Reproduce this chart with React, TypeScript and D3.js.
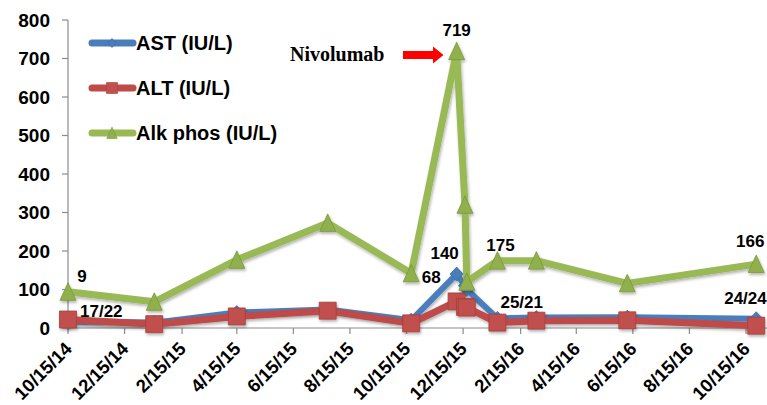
import React, { useEffect, useRef } from 'react';
import * as d3 from 'd3';

// visit dates (x) and lab values (y)
const visitDates = ['2014-10-15', '2015-01-16', '2015-04-15', '2015-07-22', '2015-10-20', '2015-12-08',
  '2015-12-17', '2015-12-19', '2016-01-21', '2016-03-03', '2016-06-09', '2016-10-26'];
const ast = [17, 14, 40, 48, 20, 140, 110, 100, 25, 27, 28, 24];
const alt = [22, 10, 30, 45, 12, 69, 55, 53, 14, 19, 20, 6];
const alkPhos = [94, 68, 177, 273, 142, 719, 320, 120, 175, 175, 116, 166];

const yTicks = [0, 100, 200, 300, 400, 500, 600, 700, 800];
const xTickDates = ['2014-10-15', '2014-12-15', '2015-02-15', '2015-04-15', '2015-06-15', '2015-08-15',
  '2015-10-15', '2015-12-15', '2016-02-15', '2016-04-15', '2016-06-15', '2016-08-15', '2016-10-15'];

const seriesNames = ['AST (IU/L)', 'ALT (IU/L)', 'Alk phos (IU/L)'];

// value labels: text, series, point index
const valueLabels = [
  { text: '9', series: 2, i: 0 },
  { text: '17/22', series: 1, i: 0 },
  { text: '140', series: 0, i: 5 },
  { text: '68', series: 2, i: 4 },
  { text: '719', series: 2, i: 5 },
  { text: '175', series: 2, i: 8 },
  { text: '25/21', series: 1, i: 8 },
  { text: '166', series: 2, i: 11 },
  { text: '24/24', series: 0, i: 11 },
];

export default function App() {
  const ref = useRef<SVGSVGElement>(null);

  useEffect(() => {
    const svg = d3.select(ref.current);
    svg.selectAll('*').remove();

    const parse = d3.timeParse('%Y-%m-%d');
    const dates = visitDates.map(d => parse(d) as Date);
    const values = [ast, alt, alkPhos];

    const x = d3.scaleTime()
      .domain([parse('2014-10-15') as Date, parse('2016-10-15') as Date])
      .range([68, 746]);
    const y = d3.scaleLinear().domain([0, 800]).range([328, 20]);

    const lineCol = ['#4A7EBB', '#BE4B48', '#98B954'];
    const markCol = ['#4A7EBB', '#C0504D', '#8FB04C'];
    const markEdge = ['#3A68A0', '#A33F3C', '#78983A'];
    const lineW = [6, 7, 7];
    const font = 'Liberation Sans, Arial, sans-serif';

    const defs = svg.append('defs');
    defs.append('filter').attr('id', 'sh')
      .attr('x', '-20%').attr('y', '-20%').attr('width', '140%').attr('height', '140%')
      .append('feDropShadow')
      .attr('dx', 1).attr('dy', 2).attr('stdDeviation', 1.5)
      .attr('flood-color', '#000').attr('flood-opacity', 0.3);

    // marker paths, centred on 0,0
    const marker = (s: number, k: number) => {
      if (s === 0) return `M0,${-7 * k}L${6.5 * k},0L0,${7 * k}L${-6.5 * k},0Z`;
      if (s === 1) return `M${-8.5 * k},${-8.5 * k}h${17 * k}v${17 * k}h${-17 * k}Z`;
      return `M0,${-9 * k}L${8 * k},${8.5 * k}L${-8 * k},${8.5 * k}Z`;
    };

    // axes
    const axis = svg.append('g').attr('stroke', '#8C8C8C').attr('stroke-width', 1.2);
    axis.append('line').attr('x1', 68).attr('x2', 68).attr('y1', y(800)).attr('y2', y(0));
    axis.append('line').attr('x1', 68).attr('x2', 767).attr('y1', y(0)).attr('y2', y(0));
    axis.selectAll('.yt').data(yTicks).enter().append('line')
      .attr('x1', 62).attr('x2', 68).attr('y1', d => y(d)).attr('y2', d => y(d));
    axis.selectAll('.xt').data(xTickDates).enter().append('line')
      .attr('x1', d => x(parse(d) as Date)).attr('x2', d => x(parse(d) as Date))
      .attr('y1', y(0)).attr('y2', y(0) + 6);

    svg.selectAll('.ylab').data(yTicks).enter().append('text')
      .attr('x', 50).attr('y', d => y(d)).attr('dy', '0.36em')
      .attr('text-anchor', 'end')
      .style('font', `bold 19px ${font}`)
      .text(d => d);

    const fmt = d3.timeFormat('%-m/%-d/%y');
    svg.selectAll('.xlab').data(xTickDates).enter().append('text')
      .attr('transform', d => `translate(${x(parse(d) as Date) + 5},${y(0) + 22}) rotate(-45)`)
      .attr('text-anchor', 'end')
      .style('font', `bold 18.5px ${font}`)
      .text(d => fmt(parse(d) as Date));

    // series
    const line = d3.line<number>()
      .x((d, i) => x(dates[i]))
      .y(d => y(d));

    values.forEach((vals, s) => {
      const g = svg.append('g').attr('filter', 'url(#sh)');
      g.append('path')
        .attr('d', line(vals))
        .attr('fill', 'none')
        .attr('stroke', lineCol[s])
        .attr('stroke-width', lineW[s])
        .attr('stroke-linejoin', 'round');
      g.selectAll('.m').data(vals).enter().append('path')
        .attr('transform', (d, i) => `translate(${x(dates[i])},${y(d)})`)
        .attr('d', marker(s, 1))
        .attr('fill', markCol[s])
        .attr('stroke', markEdge[s])
        .attr('stroke-width', 0.8);
    });

    // value labels
    const offs: Record<string, [number, number, string]> = {
      '9': [14, -10, 'middle'],
      '17/22': [12, -3, 'start'],
      '140': [-12, -15, 'middle'],
      '68': [20, 10, 'middle'],
      '719': [0, -15, 'middle'],
      '175': [3, -10, 'middle'],
      '25/21': [3, -15, 'start'],
      '166': [-6, -17, 'middle'],
      '24/24': [-32, -15, 'start'],
    };
    svg.selectAll('.vlab').data(valueLabels).enter().append('text')
      .attr('x', d => x(dates[d.i]) + offs[d.text][0])
      .attr('y', d => y(values[d.series][d.i]) + offs[d.text][1])
      .attr('text-anchor', d => offs[d.text][2])
      .style('font', `bold 17px ${font}`)
      .text(d => d.text);

    // legend
    const leg = svg.append('g');
    seriesNames.forEach((name, s) => {
      const ly = 43 + s * 45;
      leg.append('line').attr('x1', 92).attr('x2', 133).attr('y1', ly).attr('y2', ly)
        .attr('stroke', lineCol[s]).attr('stroke-width', 7).attr('stroke-linecap', 'round');
      leg.append('path').attr('transform', `translate(112,${ly})`)
        .attr('d', marker(s, 0.65)).attr('fill', markCol[s]).attr('stroke', markEdge[s]).attr('stroke-width', 0.6);
      leg.append('text').attr('x', 136).attr('y', ly + 7)
        .style('font', `bold 20px ${font}`)
        .text(name);
    });

    // Nivolumab annotation
    svg.append('text').attr('x', 290).attr('y', 61)
      .style('font', 'bold 20px Liberation Serif, Times New Roman, serif')
      .text('Nivolumab');
    svg.append('path')
      .attr('d', 'M403,51H433V46.5L443.5,55L433,63.5V59H403Z')
      .attr('fill', '#FF0000');
  }, []);

  return (
    <svg ref={ref} width={767} height={405}
      style={{ position: 'absolute', left: 0, top: 0, background: '#fff' }} />
  );
}
